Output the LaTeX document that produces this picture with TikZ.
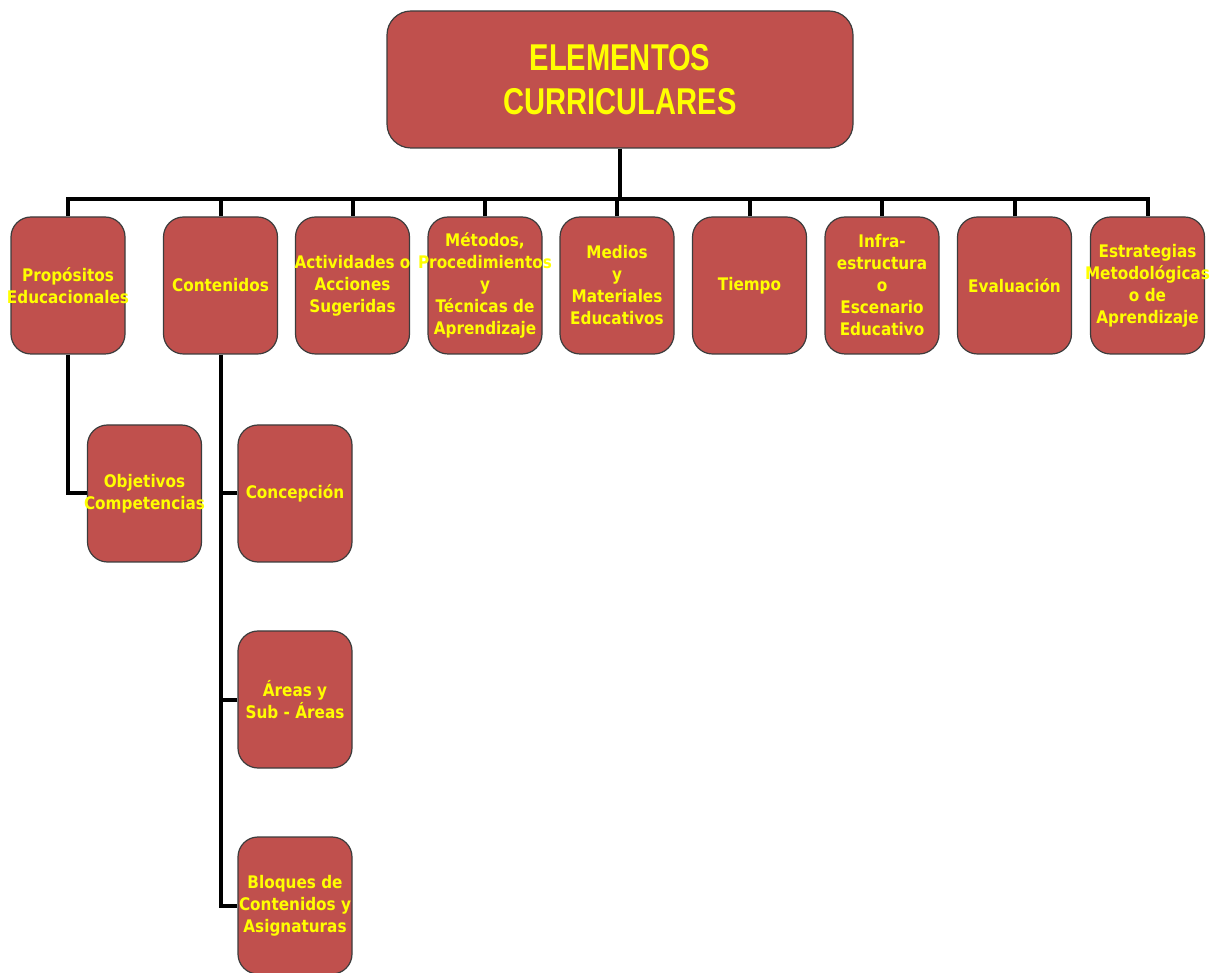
\documentclass[tikz,border=0pt]{standalone}
\usepackage{fontspec}
\setmainfont{DejaVu Sans}
\newfontfamily\boxfont[FakeStretch=0.88]{DejaVu Sans}
\newfontfamily\titlefont[FakeStretch=0.78]{Liberation Sans}
\definecolor{boxfill}{HTML}{C0504D}
\definecolor{boxline}{HTML}{3C3C3C}
\definecolor{txtyellow}{HTML}{FFFF00}
\tikzset{
  box/.style={draw=boxline, fill=boxfill, line width=0.9pt, rounded corners=15pt,
    minimum width=85.5pt, minimum height=102.75pt, inner sep=0pt},
  titlebox/.style={box, minimum width=349.5pt, rounded corners=18pt},
  txt/.style={text=txtyellow, align=center, inner sep=0pt,
    font={\boxfont\bfseries\fontsize{13pt}{16.5pt}\selectfont}},
  titletxt/.style={text=txtyellow, align=center, inner sep=0pt,
    font={\titlefont\bfseries\fontsize{28pt}{32.5pt}\selectfont}},
  conn/.style={line width=3pt, black}
}
\begin{document}
\begin{tikzpicture}[x=0.75pt, y=-0.75pt]
\useasboundingbox (0,0) rectangle (1215,973);
% boxes
\node[titlebox] (title) at (620,79.5) {};
\node[box] (p1) at (68,285.5) {};
\node[box] (p2) at (220.5,285.5) {};
\node[box] (p3) at (352.5,285.5) {};
\node[box] (p4) at (485,285.5) {};
\node[box] (p5) at (617,285.5) {};
\node[box] (p6) at (749.5,285.5) {};
\node[box] (p7) at (882,285.5) {};
\node[box] (p8) at (1014.5,285.5) {};
\node[box] (p9) at (1147.5,285.5) {};
\node[box] (obj) at (144.5,493.5) {};
\node[box] (conc) at (295,493.5) {};
\node[box] (areas) at (295,699.5) {};
\node[box] (bloq) at (295,905.5) {};
\coordinate (bus) at (620,199);
% connectors
\draw[conn] (title.south) -- (bus);
\draw[conn] (p1.north) |- (bus) -| (p9.north);
\foreach \k in {2,...,8} { \draw[conn] (p\k.north) -- (p\k.north |- bus); }
\draw[conn] (p1.south) |- (obj.west);
\draw[conn] (p2.south) |- (bloq.west);
\draw[conn] (conc.west) -- (conc.west -| p2.south);
\draw[conn] (areas.west) -- (areas.west -| p2.south);
% texts
\node[titletxt] (titlet) at (title) {ELEMENTOS\\CURRICULARES};
\node[txt] (p1t) at (p1) {Propósitos\\Educacionales};
\node[txt] (p2t) at (p2) {Contenidos};
\node[txt] (p3t) at (p3) {Actividades o\\Acciones\\Sugeridas};
\node[txt] (p4t) at (p4) {Métodos,\\Procedimientos\\y\\Técnicas de\\Aprendizaje};
\node[txt] (p5t) at (p5) {Medios\\y\\Materiales\\Educativos};
\node[txt] (p6t) at (p6) {Tiempo};
\node[txt] (p7t) at (p7) {Infra-\\estructura\\o\\Escenario\\Educativo};
\node[txt] (p8t) at (p8) {Evaluación};
\node[txt] (p9t) at (p9) {Estrategias\\Metodológicas\\o de\\Aprendizaje};
\node[txt] (objt) at (obj) {Objetivos\\Competencias};
\node[txt] (conct) at (conc) {Concepción};
\node[txt] (areast) at (areas) {Áreas y\\Sub - Áreas};
\node[txt] (bloqt) at (bloq) {Bloques de\\Contenidos y\\Asignaturas};
\end{tikzpicture}
\end{document}
